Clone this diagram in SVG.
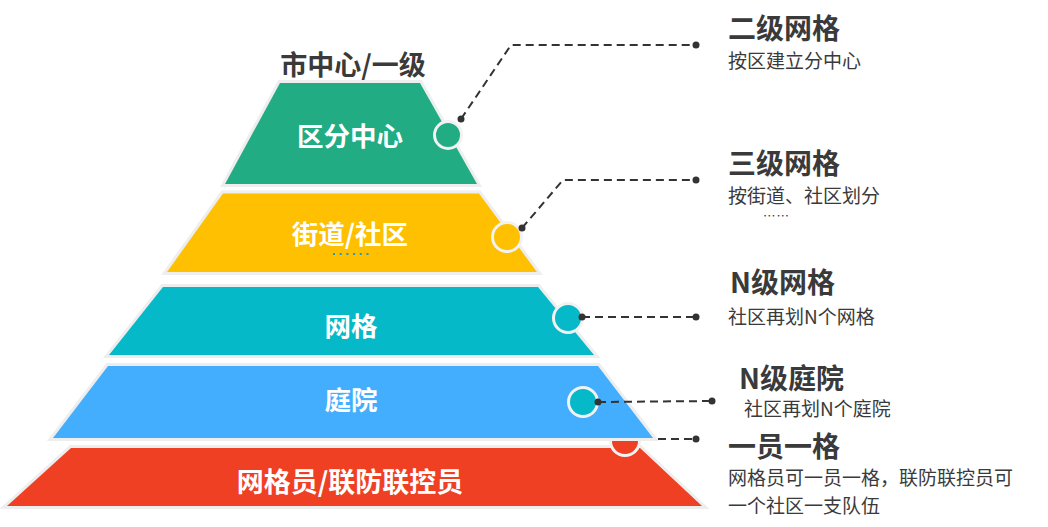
<svg xmlns="http://www.w3.org/2000/svg" width="1048" height="527" viewBox="0 0 1048 527">
<style>
.layer{stroke:#eeeeee;stroke-width:6;paint-order:stroke;stroke-linejoin:miter}
.knob{stroke:#f2f2f2;stroke-width:3}
.lbl{font-family:"Noto Sans CJK SC","Liberation Sans",sans-serif;font-weight:bold;font-size:26.5px;fill:#ffffff;text-anchor:middle}
.ttl{font-family:"Noto Sans CJK SC","Liberation Sans",sans-serif;font-weight:bold;font-size:28px;fill:#3a3a3a}
.desc{font-family:"Noto Sans CJK SC","Liberation Sans",sans-serif;font-size:19px;fill:#3a3a3a}
.conn{stroke:#333333;stroke-width:2;stroke-dasharray:8 5;fill:none}
.dot{fill:#333333}
</style>
<rect width="1048" height="527" fill="#ffffff"/>
<text x="353" y="75" class="ttl" style="font-size:27px" text-anchor="middle">市中心/一级</text>

<g id="layer5">
<polygon class="layer" points="71,448 640,448 702,506 7,506" fill="#f04024"/>
<circle class="knob" cx="625" cy="441" r="14.5" fill="#f04024"/>
<text class="lbl" x="350" y="492" style="font-size:27px">网格员/联防联控员</text>
</g>
<g id="layer4">
<polygon class="layer" points="108,366 598,366 653,438 53,438" fill="#43aefe"/>
<circle class="knob" cx="583" cy="402" r="14.5" fill="#06b9c8"/>
<text class="lbl" x="351" y="410">庭院</text>
</g>
<g id="layer3">
<polygon class="layer" points="163,287 538,287 594,355 109,355" fill="#06b9c8"/>
<circle class="knob" cx="568" cy="318" r="14.5" fill="#06b9c8"/>
<text class="lbl" x="351" y="336">网格</text>
</g>
<g id="layer2">
<polygon class="layer" points="223,193.5 479,193.5 537,272 167,272" fill="#fec000"/>
<circle class="knob" cx="507" cy="237" r="14.5" fill="#fec000"/>
<text class="lbl" x="350" y="244">街道/社区</text>
<line x1="333" y1="254" x2="372" y2="254" stroke="#1e98d0" stroke-width="2" stroke-dasharray="2 4.7"/>
</g>
<g id="layer1">
<polygon class="layer" points="280,83 420,83 477,184 225,184" fill="#21ac84"/>
<circle class="knob" cx="448" cy="135" r="13.5" fill="#21ac84"/>
<text class="lbl" x="350" y="146">区分中心</text>
</g>

<g id="connectors">
<polyline class="conn" points="461,119 511,45 696,45"/>
<circle class="dot" cx="461" cy="119" r="3.5"/><circle class="dot" cx="696" cy="45" r="3.5"/>
<polyline class="conn" points="522,228 563,180 696,180"/>
<circle class="dot" cx="522" cy="228" r="3.5"/><circle class="dot" cx="696" cy="180" r="3.5"/>
<line class="conn" x1="582" y1="317" x2="696" y2="317"/>
<circle class="dot" cx="582" cy="317" r="3.5"/><circle class="dot" cx="696" cy="317" r="3.5"/>
<line class="conn" x1="598" y1="402" x2="712" y2="401"/>
<circle class="dot" cx="598" cy="402" r="3.5"/><circle class="dot" cx="712" cy="401" r="3.5"/>
<line class="conn" x1="658" y1="439" x2="696" y2="439"/>
<circle class="dot" cx="696" cy="439" r="3.5"/>
</g>

<g id="note1">
<text class="ttl" x="728" y="39">二级网格</text>
<text class="desc" x="728" y="68">按区建立分中心</text>
</g>
<g id="note2">
<text class="ttl" x="728" y="174">三级网格</text>
<text class="desc" x="728" y="203">按街道、社区划分</text>
<text class="desc" x="763" y="221" style="font-size:12.5px;letter-spacing:1px">……</text>
</g>
<g id="note3">
<text class="ttl" x="730" y="293">N级网格</text>
<text class="desc" x="728" y="324">社区再划N个网格</text>
</g>
<g id="note4">
<text class="ttl" x="739" y="389">N级庭院</text>
<text class="desc" x="744" y="415.5">社区再划N个庭院</text>
</g>
<g id="note5">
<text class="ttl" x="728" y="457">一员一格</text>
<text class="desc" x="728" y="485">网格员可一员一格，联防联控员可</text>
<text class="desc" x="728" y="513">一个社区一支队伍</text>
</g>
</svg>
